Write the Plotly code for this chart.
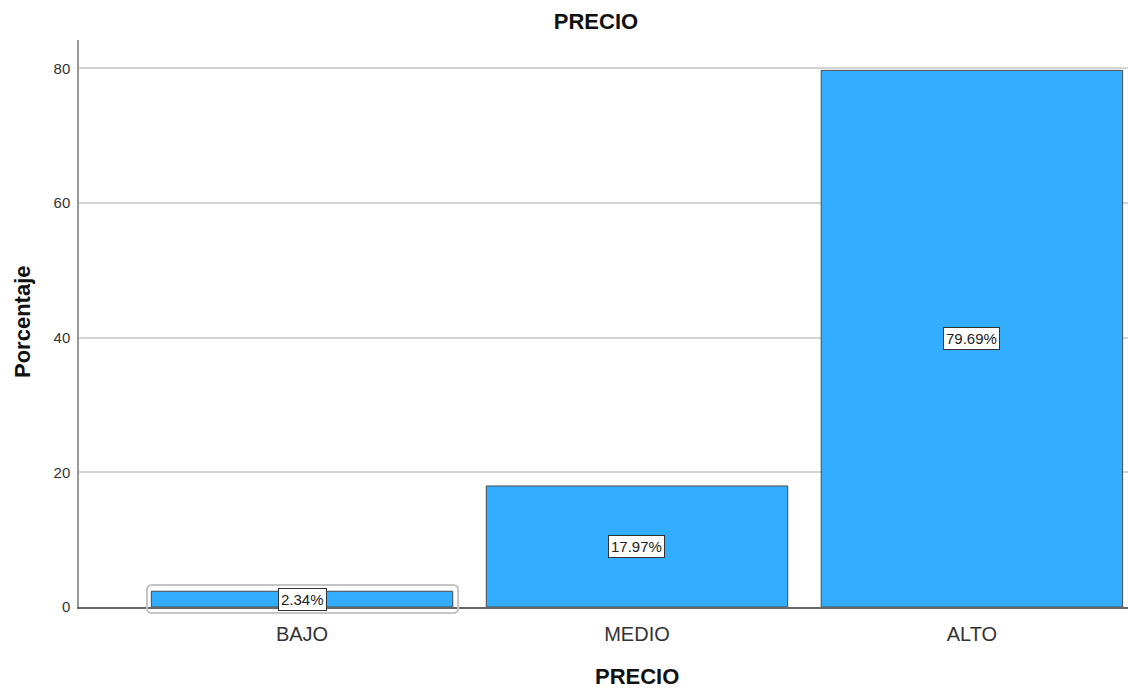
import plotly.graph_objects as go

categories = ["BAJO", "MEDIO", "ALTO"]
percentages = [2.34, 17.97, 79.69]
labels = ["2.34%", "17.97%", "79.69%"]
y_ticks = [0, 20, 40, 60, 80]

W, H = 1128, 688
ML, MR, MT, MB = 79, 0, 40, 81
plot_w = W - ML - MR
plot_h = H - MT - MB
FONT = "Liberation Sans, Arial"

fig = go.Figure()
fig.add_trace(go.Bar(
    x=list(range(len(categories))), y=percentages,
    marker=dict(color="#33adff", line=dict(color="#4a4a4a", width=1)),
    width=0.9, hoverinfo="skip", showlegend=False,
))

for i, (v, t) in enumerate(zip(percentages, labels)):
    fig.add_annotation(
        x=i, y=v / 2, xref="x", yref="y", text=t, showarrow=False,
        font=dict(family=FONT, size=15, color="#222"),
        bgcolor="white", bordercolor="#333", borderwidth=1, borderpad=2,
    )

# selection highlight around first bar (rounded rectangle)
rx = 5 / 335.0
ry = 5 / plot_h
x0, x1 = -0.463, 0.466
y0, y1 = -6 / plot_h, 22 / plot_h
path = (f"M {x0+rx},{y0} L {x1-rx},{y0} Q {x1},{y0} {x1},{y0+ry} "
        f"L {x1},{y1-ry} Q {x1},{y1} {x1-rx},{y1} L {x0+rx},{y1} "
        f"Q {x0},{y1} {x0},{y1-ry} L {x0},{y0+ry} Q {x0},{y0} {x0+rx},{y0} Z")
fig.add_shape(type="path", path=path, xref="x", yref="paper",
              line=dict(color="#c4c4c4", width=2), fillcolor="rgba(0,0,0,0)", layer="above")

# axis titles as annotations for precise placement
fig.add_annotation(
    text="<b>PRECIO</b>", xref="paper", yref="paper",
    x=(637 - ML) / plot_w, y=(H - MB - 676) / plot_h, xanchor="center", yanchor="middle",
    showarrow=False, font=dict(family=FONT, size=22, color="#111"),
)
fig.add_annotation(
    text="<b>Porcentaje</b>", xref="paper", yref="paper", textangle=-90,
    x=(22 - ML) / plot_w, y=(H - MB - 322) / plot_h, xanchor="center", yanchor="middle",
    showarrow=False, font=dict(family=FONT, size=22, color="#111"),
)

fig.update_layout(
    width=W, height=H,
    margin=dict(l=ML, r=MR, t=MT, b=MB),
    paper_bgcolor="white", plot_bgcolor="white",
    font=dict(family=FONT, color="#333"),
    title=dict(text="<b>PRECIO</b>", x=596 / W, xanchor="center", y=1 - 21 / H, yanchor="middle",
               font=dict(size=22, color="#111")),
    bargap=0.1,
)
fig.update_xaxes(
    range=[-0.666, 2.466], tickmode="array", tickvals=list(range(len(categories))),
    ticktext=categories, tickfont=dict(size=20, color="#333"),
    showgrid=False, zeroline=False, showline=True, linecolor="#666", linewidth=1.5,
    ticks="outside", ticklen=8, tickcolor="rgba(0,0,0,0)",
)
fig.update_yaxes(
    range=[0, 84.2], tickvals=y_ticks, tickfont=dict(size=15, color="#333"),
    showgrid=True, gridcolor="#d4d4d4", gridwidth=1.5, zeroline=False,
    showline=True, linecolor="#999", linewidth=1.5,
    ticks="outside", ticklen=4, tickcolor="rgba(0,0,0,0)",
)

fig.write_html("out.html")
